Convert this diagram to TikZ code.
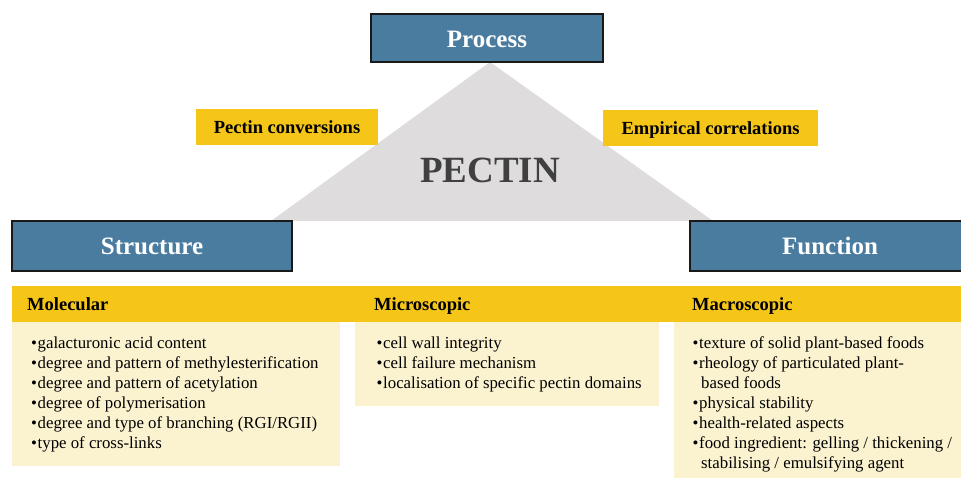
\documentclass[tikz,border=0pt]{standalone}
\usepackage{fontspec}
\setmainfont{Liberation Serif}
\definecolor{boxblue}{HTML}{4A7CA0}
\definecolor{gold}{HTML}{F5C518}
\definecolor{paleyellow}{HTML}{FBF3D0}
\definecolor{trigray}{HTML}{DEDCDD}
\definecolor{darktxt}{HTML}{404040}
\tikzset{
  titlebox/.style={draw=black!90, line width=2.5pt, fill=boxblue},
  titletext/.style={text=white, font=\fontsize{25}{30}\selectfont\bfseries, anchor=base, inner sep=0pt},
  tagbox/.style={fill=gold, font=\fontsize{18.5}{22}\selectfont\bfseries, inner sep=0pt, anchor=base},
  headtext/.style={font=\fontsize{18.5}{22}\selectfont\bfseries, anchor=base west, inner sep=0pt},
  item/.style={font=\fontsize{16.8}{20}\selectfont, anchor=base west, inner sep=0pt},
}
\newcommand{\bul}{\llap{•\hspace{0.8pt}}}
\begin{document}
\begin{tikzpicture}[x=1pt,y=-1pt]
\useasboundingbox (0,0) rectangle (961,478);
% triangle
\fill[trigray] (490,62) -- (713,221) -- (271,221) -- cycle;
\node[font=\fontsize{37}{44}\selectfont\bfseries, text=darktxt, anchor=base, inner sep=0pt] (pectin) at (490,183) {PECTIN};
% tag boxes
\fill[gold] (196,109) rectangle (378,145);
\node[tagbox] (conv) at (287,134) {Pectin conversions};
\fill[gold] (603,110) rectangle (818,146);
\node[tagbox] (emp) at (710.5,135) {Empirical correlations};
% title boxes
\draw[titlebox] (371,14) rectangle (603,62);
\node[titletext] (process) at (487,47.7) {Process};
\draw[titlebox] (12,221) rectangle (292,271);
\node[titletext] (structure) at (152,255) {Structure};
\draw[titlebox] (690,221) rectangle (970,271);
\node[titletext] (function) at (830,255) {Function};
% bar
\fill[gold] (12,286) rectangle (965,322);
\node[headtext] (mol) at (27,310.7) {Molecular};
\node[headtext] (mic) at (374,310.7) {Microscopic};
\node[headtext] (mac) at (692,310.7) {Macroscopic};
% pale boxes
\fill[paleyellow] (12,322) rectangle (340,466);
\fill[paleyellow] (355,322) rectangle (659,405.5);
\fill[paleyellow] (674,322) rectangle (965,478);
% molecular list
\foreach \t [count=\i] in {{galacturonic acid content},{degree and pattern of methylesterification},{degree and pattern of acetylation},{degree of polymerisation},{degree and type of branching (RGI/RGII)},{type of cross-links}}
  \node[item] (m\i) at (37.5,328+20*\i) {\bul\t};
% microscopic list
\foreach \t [count=\i] in {{cell wall integrity},{cell failure mechanism},{localisation of specific pectin domains}}
  \node[item] (c\i) at (383,328+20*\i) {\bul\t};
% macroscopic list
\node[item] (f1) at (699,348) {\bul texture of solid plant-based foods};
\node[item] (f2) at (699,368) {\bul rheology of particulated plant-};
\node[item] (f2b) at (701,388) {based foods};
\node[item] (f3) at (699,408) {\bul physical stability};
\node[item] (f4) at (699,428) {\bul health-related aspects};
\node[item] (f5) at (699,448) {\bul food ingredient: gelling / thickening /};
\node[item] (f5b) at (701,468) {stabilising / emulsifying agent};
\end{tikzpicture}
\end{document}
